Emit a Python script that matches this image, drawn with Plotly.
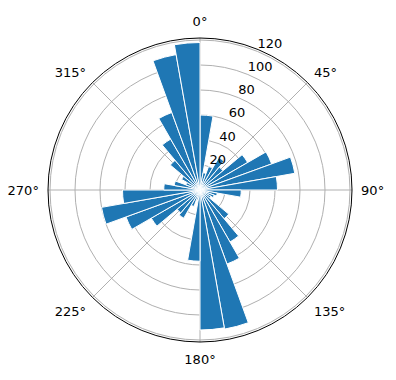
import plotly.graph_objects as go

# bin centres (degrees, compass) and counts
bin_centers = [5 + 10 * i for i in range(36)]
counts = [60, 14, 20, 30, 24, 44, 61, 77, 62,
          33, 14, 12, 10, 30, 48, 63, 113, 112,
          57, 8, 14, 26, 24, 45, 63, 80, 62,
          29, 21, 12, 17, 31, 47, 66, 110, 118]
bin_width = 10
angle_ticks = [0, 45, 90, 135, 180, 225, 270, 315]
angle_labels = [f"{a}°" for a in angle_ticks]
r_ticks = [20, 40, 60, 80, 100, 120]
r_label_angle = 22.5

fig = go.Figure()
fig.add_trace(go.Barpolar(
    r=counts, theta=bin_centers, width=[bin_width] * len(counts),
    marker=dict(color="#1f77b4", line=dict(color="white", width=1)),
    hoverinfo="skip",
))
# radial tick labels, matplotlib style (horizontal, at 22.5 deg)
fig.add_trace(go.Scatterpolar(
    r=r_ticks, theta=[r_label_angle] * len(r_ticks),
    text=[str(v) for v in r_ticks], mode="text",
    textposition="top right", cliponaxis=False,
    textfont=dict(family="DejaVu Sans", size=13, color="black"),
    hoverinfo="skip",
))

W, H = 396, 380
cx, cy, R = 200, 190, 152
fig.update_layout(
    width=W, height=H,
    margin=dict(l=0, r=0, t=0, b=0),
    paper_bgcolor="white",
    showlegend=False,
    font=dict(family="DejaVu Sans", size=13, color="black"),
    polar=dict(
        domain=dict(x=[(cx - R) / W, (cx + R) / W],
                    y=[(H - cy - R) / H, (H - cy + R) / H]),
        bgcolor="white",
        angularaxis=dict(
            rotation=90, direction="clockwise",
            tickvals=angle_ticks, ticktext=angle_labels,
            ticks="outside", ticklen=6, tickcolor="rgba(0,0,0,0)",
            showline=True, linecolor="black", linewidth=1,
            gridcolor="#b0b0b0", gridwidth=0.8,
        ),
        radialaxis=dict(
            range=[0, 121.6], tickvals=r_ticks, ticks="",
            showticklabels=False,
            showline=False, angle=67.5,
            gridcolor="#b0b0b0", gridwidth=0.8,
        ),
    ),
)
fig.write_html("out.html")
